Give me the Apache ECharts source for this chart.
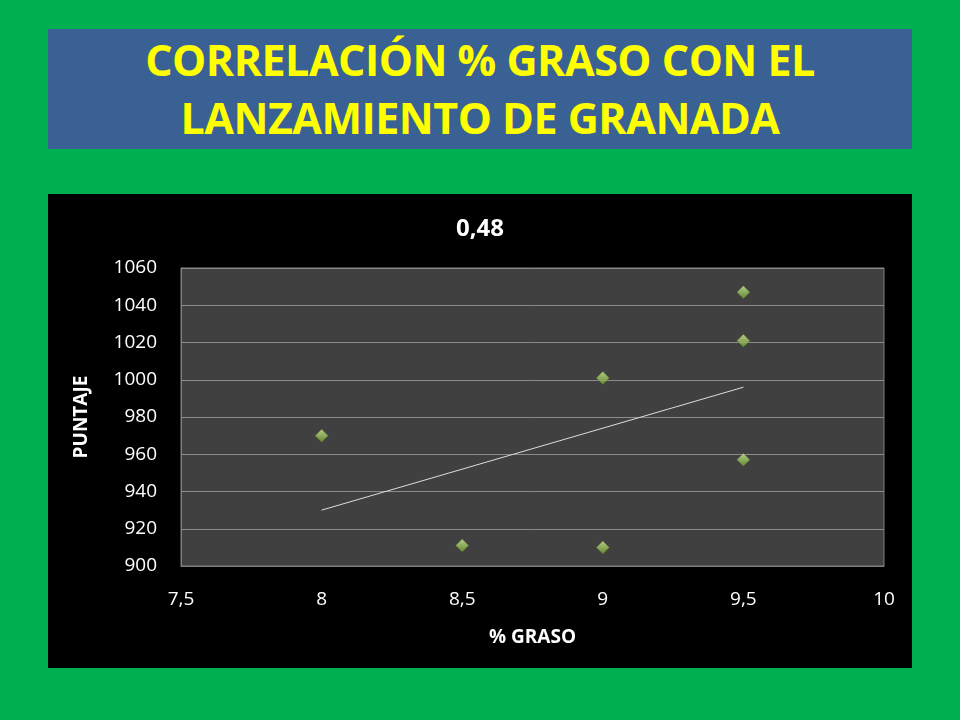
<!DOCTYPE html>
<html>
<head>
<meta charset="utf-8">
<script src="https://cdn.jsdelivr.net/npm/echarts@6/dist/echarts.min.js"></script>
<style>
body { margin:0; width:960px; height:720px; background:#00B050; position:relative; overflow:hidden; }
#head { position:absolute; left:48px; top:29px; width:864px; height:120px; background:#3A6194;
  color:#FFFF00; font-family:"Open Sans",sans-serif; font-weight:bold; font-size:43px;
  text-align:center; line-height:58px; padding-top:2px; box-sizing:border-box; letter-spacing:-0.5px; }
#main { position:absolute; left:48px; top:194px; width:864px; height:474px; background:#000; }
</style>
</head>
<body>
<div id="head">CORRELACIÓN % GRASO CON EL<br>LANZAMIENTO DE GRANADA</div>
<div id="main"></div>
<script>
var grasa = [8, 8.5, 9, 9, 9.5, 9.5, 9.5];
var puntaje = [970, 911, 1001, 910, 1047, 1021, 957];
var tendencia = [[8, 930], [9.5, 996]];

var pts = grasa.map(function (g, i) { return [g, puntaje[i]]; });
var chart = echarts.init(document.getElementById("main"));
var font = "Open Sans";
chart.setOption({
  backgroundColor: "#000",
  title: { text: "0,48", left: "center", top: 18,
    textStyle: { color: "#fff", fontSize: 24, fontWeight: "bold", fontFamily: font } },
  grid: { left: 133, top: 74, right: 28, bottom: 102, show: true, backgroundColor: "#404040", borderColor: "#808080", borderWidth: 1 },
  xAxis: {
    type: "value", min: 7.5, max: 10, interval: 0.5,
    name: "% GRASO", nameLocation: "middle", nameGap: 62,
    nameTextStyle: { color: "#fff", fontSize: 19, fontWeight: "bold", fontFamily: font },
    axisLine: { lineStyle: { color: "#808080" } }, axisTick: { show: false },
    splitLine: { show: false },
    axisLabel: { color: "#fff", fontSize: 19, fontFamily: font, margin: 24,
      formatter: function (v) { return String(v).replace(".", ","); } }
  },
  yAxis: {
    type: "value", min: 900, max: 1060, interval: 20,
    name: "PUNTAJE", nameLocation: "middle", nameGap: 90,
    nameTextStyle: { color: "#fff", fontSize: 19, fontWeight: "bold", fontFamily: font },
    axisLine: { show: true, lineStyle: { color: "#808080" } }, axisTick: { show: false },
    splitLine: { lineStyle: { color: "#8c8c8c" } },
    axisLabel: { color: "#fff", fontSize: 19, fontFamily: font, margin: 24,
      formatter: function (v) { return String(v); } }
  },
  series: [
    { type: "line", data: tendencia, symbol: "none", lineStyle: { color: "#ddd", width: 1 } },
    { type: "scatter", data: pts, symbol: "diamond", symbolSize: 13,
      itemStyle: { color: new echarts.graphic.LinearGradient(0, 0, 0, 1, [
        { offset: 0, color: "#d8f0a0" }, { offset: 1, color: "#6a9a2a" }]),
        borderColor: "#4a6a20", borderWidth: 0.5 } }
  ]
});
</script>
</body>
</html>
